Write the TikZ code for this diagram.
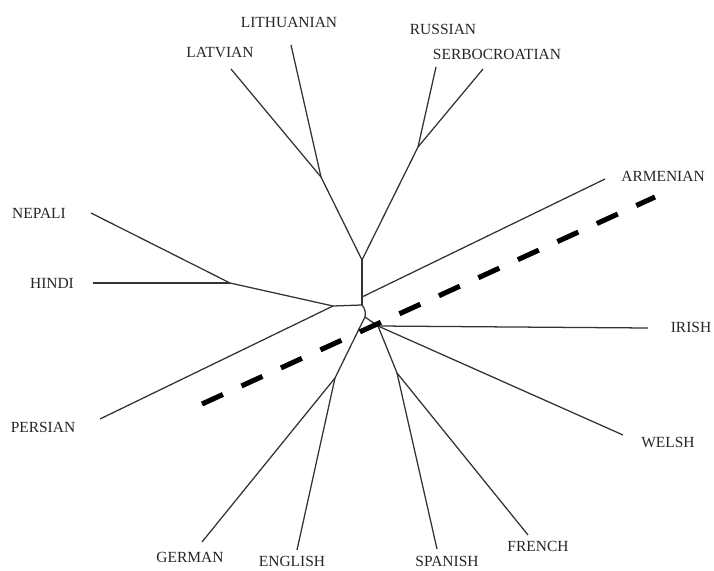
\documentclass[tikz,border=0pt]{standalone}
\usepackage{fontspec}
\setmainfont{Liberation Serif}
\usetikzlibrary{calc}

\begin{document}
\begin{tikzpicture}[
  x=0.025cm, y=-0.025cm,
  every node/.style={font=\fontsize{11}{13}\selectfont, inner sep=0pt, text=black!85},
  edge/.style={line width=0.9pt, black!80},
  split/.style={line width=3.6pt, dash pattern=on 0.575cm off 0.51cm}
]
\useasboundingbox (0,0) rectangle (714,570);

% taxon labels
\node (lat) at (220,53)  {LATVIAN};
\node (lit) at (289,22)  {LITHUANIAN};
\node (rus) at (443,29)  {RUSSIAN};
\node (ser) at (497,54)  {SERBOCROATIAN};
\node (arm) at (663,176) {ARMENIAN};
\node (nep) at (39,213)  {NEPALI};
\node (hin) at (52,283)  {HINDI};
\node (per) at (43,427)  {PERSIAN};
\node (iri) at (691,327) {IRISH};
\node (wel) at (668,442) {WELSH};
\node (fre) at (538,546) {FRENCH};
\node (spa) at (447,561) {SPANISH};
\node (eng) at (292,561) {ENGLISH};
\node (ger) at (190,557) {GERMAN};

% leaf ends
\coordinate (latE) at (231,69);
\coordinate (litE) at (291,45);
\coordinate (rusE) at (436,67);
\coordinate (serE) at (483,69);
\coordinate (armE) at (605,179);
\coordinate (nepE) at (91,213);
\coordinate (hinE) at (93,283);
\coordinate (perE) at (100,419);
\coordinate (iriE) at (648,328);
\coordinate (welE) at (623,435);
\coordinate (freE) at (528,535);
\coordinate (spaE) at (437,549);
\coordinate (engE) at (297,550);
\coordinate (gerE) at (202,542);

% inner vertices
\coordinate (bal)  at (321,177);
\coordinate (sla)  at (418,147);
\coordinate (top)  at (362,260);
\coordinate (armV) at (362,297);
\coordinate (ii)   at (362,305);
\coordinate (ind)  at (333,306);
\coordinate (nh)   at (230,283);
\coordinate (ret)  at (365,317);
\coordinate (retL) at (358,331);
\coordinate (retR) at (378,326);
\coordinate (ge)   at (335,378);
\coordinate (sf)   at (397,373);

% split tree
\draw[edge] (latE) -- (bal);
\draw[edge] (litE) -- (bal);
\draw[edge] (bal) -- (top);
\draw[edge] (rusE) -- (sla);
\draw[edge] (serE) -- (sla);
\draw[edge] (sla) -- (top);
\draw[edge] (top) -- (ii);
\draw[edge] (armV) -- (armE);
\draw[edge] (ii) -- (ind);
\draw[edge] (nepE) -- (nh);
\draw[edge] (hinE) -- (nh);
\draw[edge] (nh) -- (ind);
\draw[edge] (perE) -- (ind);
\draw[edge] (ii) to[bend left=25] (ret);
\draw[edge] (ret) -- (retL) -- (retR) -- (ret);
\draw[edge] (retL) -- (ge);
\draw[edge] (ge) -- (gerE);
\draw[edge] (ge) -- (engE);
\draw[edge] (retR) -- (sf);
\draw[edge] (sf) -- (spaE);
\draw[edge] (sf) -- (freE);
\draw[edge] (retR) -- (iriE);
\draw[edge] (retR) -- (welE);

% the cut
\coordinate (cutA) at (202,404);
\coordinate (cutB) at (655,197);
\draw[split] (cutA) -- (cutB);
\end{tikzpicture}
\end{document}
